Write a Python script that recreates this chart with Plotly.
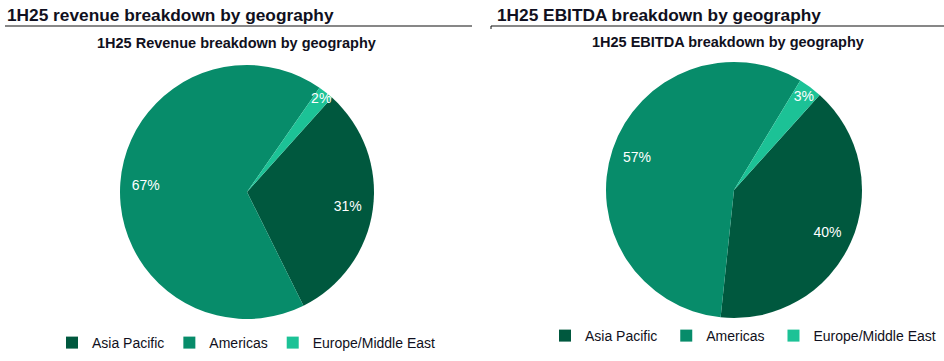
import plotly.graph_objects as go

# ---- data ----
regions = ["Asia Pacific", "Americas", "Europe/Middle East"]
revenue_share = [31, 67, 2]
ebitda_share = [40, 57, 3]
panel_headings = ["1H25 revenue breakdown by geography", "1H25 EBITDA breakdown by geography"]
chart_titles = ["1H25 Revenue breakdown by geography", "1H25 EBITDA breakdown by geography"]
colors = ["#00583E", "#078C6A", "#1CC296"]

W, H = 944, 361
FONT = "Liberation Sans, Arial, sans-serif"
TXT = "#101020"


def px_dom(x0, x1, ytop, ybot):
    return dict(x=[x0 / W, x1 / W], y=[1 - ybot / H, 1 - ytop / H])


def add_pie(fig, labels, values, dom, legend):
    # the coloured pie (no text)
    fig.add_trace(go.Pie(
        labels=labels, values=values, sort=False, direction="clockwise", rotation=42,
        marker=dict(colors=colors, line=dict(width=0)),
        textinfo="none", domain=dom, legend=legend, showlegend=True,
        hoverinfo="label+percent",
    ))
    # transparent ring carrying the percentage labels further out
    fig.add_trace(go.Pie(
        labels=labels, values=values, sort=False, direction="clockwise", rotation=42, hole=0.6,
        marker=dict(colors=["rgba(0,0,0,0)"] * len(values), line=dict(width=0)),
        texttemplate="%{value}%", textposition="inside", insidetextorientation="horizontal",
        textfont=dict(family=FONT, size=14, color="white"),
        domain=dom, legend=legend, showlegend=False, hoverinfo="skip",
    ))


fig = go.Figure()
add_pie(fig, regions, revenue_share, px_dom(120, 374, 65, 319), "legend")
add_pie(fig, [r + " " for r in regions], ebitda_share, px_dom(606, 862, 62, 318), "legend2")

annotations = [
    dict(text=f"<b>{panel_headings[0]}</b>", x=5 / W, y=1 - 15 / H, xanchor="left", yanchor="middle",
         font=dict(family=FONT, size=17.3, color=TXT)),
    dict(text=f"<b>{panel_headings[1]}</b>", x=495 / W, y=1 - 15 / H, xanchor="left", yanchor="middle",
         font=dict(family=FONT, size=17.3, color=TXT)),
    dict(text=f"<b>{chart_titles[0]}</b>", x=236 / W, y=1 - 43 / H, xanchor="center", yanchor="middle",
         font=dict(family=FONT, size=14.5, color=TXT)),
    dict(text=f"<b>{chart_titles[1]}</b>", x=728 / W, y=1 - 42 / H, xanchor="center", yanchor="middle",
         font=dict(family=FONT, size=14.5, color=TXT)),
]
for a in annotations:
    a.update(xref="paper", yref="paper", showarrow=False)

shapes = [
    dict(type="line", x0=5 / W, x1=472 / W, y0=1 - 26 / H, y1=1 - 26 / H, line=dict(color="#111", width=1.2)),
    dict(type="line", x0=491 / W, x1=944 / W, y0=1 - 26 / H, y1=1 - 26 / H, line=dict(color="#111", width=1.2)),
    dict(type="line", x0=491 / W, x1=491 / W, y0=1 - 26 / H, y1=1 - 29 / H, line=dict(color="#111", width=1)),
]
for s in shapes:
    s.update(xref="paper", yref="paper")

legend_common = dict(orientation="h", xanchor="left", yanchor="middle",
                     font=dict(family=FONT, size=14, color=TXT), bgcolor="rgba(0,0,0,0)", traceorder="normal")

fig.update_layout(
    width=W, height=H, margin=dict(l=0, r=0, t=0, b=0, autoexpand=False),
    paper_bgcolor="white", plot_bgcolor="white",
    font=dict(family=FONT, size=14, color=TXT),
    uniformtext=dict(minsize=14, mode="show"),
    annotations=annotations, shapes=shapes,
    legend=dict(x=52 / W, y=1 - 343 / H, **legend_common),
    legend2=dict(x=545 / W, y=1 - 336 / H, **legend_common),
)

fig.write_html("out.html", config={"displayModeBar": False},
               post_script="document.body.style.margin='0';")
